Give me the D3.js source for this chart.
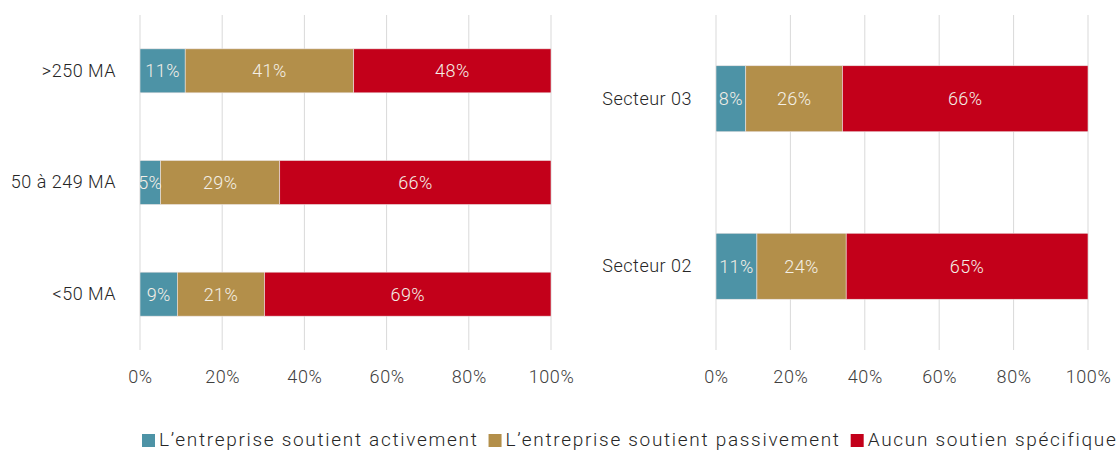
<!DOCTYPE html>
<html>
<head>
<meta charset="utf-8">
<script src="https://cdn.jsdelivr.net/npm/d3@7"></script>
<style>
  html, body { margin: 0; padding: 0; background: #fff; }
  svg { display: block; }
  text { font-family: Roboto, "Noto Sans", sans-serif; }
</style>
</head>
<body>
<svg id="chart" width="1117" height="450"></svg>
<script>
// Series names (legend order)
const seriesNames = [
  "L\u2019entreprise soutient activement",
  "L\u2019entreprise soutient passivement",
  "Aucun soutien sp\u00e9cifique"
];
const seriesColors = ["#4D93A6", "#B38F4A", "#C3001A"];

// Left panel: company size
const sizeCategories = [">250 MA", "50 \u00e0 249 MA", "<50 MA"];
const sizeActive  = [11, 5, 9];
const sizePassive = [41, 29, 21];
const sizeNone    = [48, 66, 69];

// Right panel: sector
const sectorCategories = ["Secteur 03", "Secteur 02"];
const sectorActive  = [8, 11];
const sectorPassive = [26, 24];
const sectorNone    = [66, 65];

const tickValues = [0, 20, 40, 60, 80, 100];

const svg = d3.select("#chart");

// 100% stacked horizontal bars: each row is shown as shares of its own total
function drawPanel(opts) {
  const { categories, series, x0, x1, y0, y1 } = opts;
  const g = svg.append("g");

  const x = d3.scaleLinear().domain([0, 100]).range([x0, x1]);
  const y = d3.scaleBand().domain(categories).range([y0, y1])
    .paddingInner(0.606).paddingOuter(0.303);

  // vertical gridlines
  g.selectAll("line.grid").data(tickValues).join("line")
    .attr("class", "grid")
    .attr("x1", d => x(d)).attr("x2", d => x(d))
    .attr("y1", y0).attr("y2", y1)
    .attr("stroke", "#d9d9d9").attr("stroke-width", 1);

  // x axis tick labels
  const xAxis = d3.axisBottom(x).tickValues(tickValues).tickFormat(d => d + "%").tickSize(0).tickPadding(0);
  const ax = g.append("g").attr("transform", `translate(0,${y1 + 33})`).call(xAxis);
  ax.select(".domain").remove();
  ax.selectAll("text")
    .attr("font-family", "Roboto, sans-serif").attr("font-weight", 300)
    .attr("font-size", 18).attr("letter-spacing", 0.6)
    .attr("fill", "#404040").attr("dy", null);

  // y axis category labels
  const yAxis = d3.axisLeft(y).tickSize(0).tickPadding(24);
  const ay = g.append("g").attr("transform", `translate(${x0},0)`).call(yAxis);
  ay.select(".domain").remove();
  ay.selectAll("text")
    .attr("font-family", "Roboto, sans-serif").attr("font-weight", 300)
    .attr("font-size", 18).attr("letter-spacing", 0.5)
    .attr("fill", "#262626");

  // stacked segments
  const rows = categories.map((c, i) => {
    const total = d3.sum(series, s => s[i]);
    let acc = 0;
    return series.map((s, k) => {
      const v = s[i];
      const seg = { cat: c, k, v, start: acc / total * 100, end: (acc + v) / total * 100 };
      acc += v;
      return seg;
    });
  }).flat();

  g.selectAll("rect.seg").data(rows).join("rect")
    .attr("class", "seg")
    .attr("x", d => x(d.start))
    .attr("y", d => y(d.cat))
    .attr("width", d => x(d.end) - x(d.start))
    .attr("height", y.bandwidth())
    .attr("fill", d => seriesColors[d.k])
    .attr("stroke", "#ece4e4").attr("stroke-width", 0.6);

  g.selectAll("text.val").data(rows).join("text")
    .attr("class", "val")
    .attr("x", d => (x(d.start) + x(d.end)) / 2)
    .attr("y", d => y(d.cat) + y.bandwidth() / 2)
    .attr("text-anchor", "middle")
    .attr("dominant-baseline", "central")
    .attr("font-size", 18).attr("font-weight", 300)
    .attr("letter-spacing", 0.4)
    .attr("fill", "#f4efe6")
    .text(d => d.v + "%");
}

drawPanel({
  categories: sizeCategories,
  series: [sizeActive, sizePassive, sizeNone],
  x0: 140, x1: 551, y0: 15, y1: 350
});

drawPanel({
  categories: sectorCategories,
  series: [sectorActive, sectorPassive, sectorNone],
  x0: 716, x1: 1088, y0: 15, y1: 350
});

// legend
const legend = svg.append("g").attr("transform", "translate(142,440.5)");
let lx = 0;
seriesNames.forEach((name, i) => {
  const item = legend.append("g").attr("transform", `translate(${lx},0)`);
  item.append("rect").attr("x", 0).attr("y", -6.5).attr("width", 13).attr("height", 13)
    .attr("fill", seriesColors[i]);
  const t = item.append("text").attr("x", 17).attr("y", 5.5)
    .attr("font-size", 19).attr("font-weight", 300)
    .attr("letter-spacing", 1.7)
    .attr("fill", "#262626").text(name);
  lx += 17 + t.node().getComputedTextLength() + 10;
});
</script>
</body>
</html>
